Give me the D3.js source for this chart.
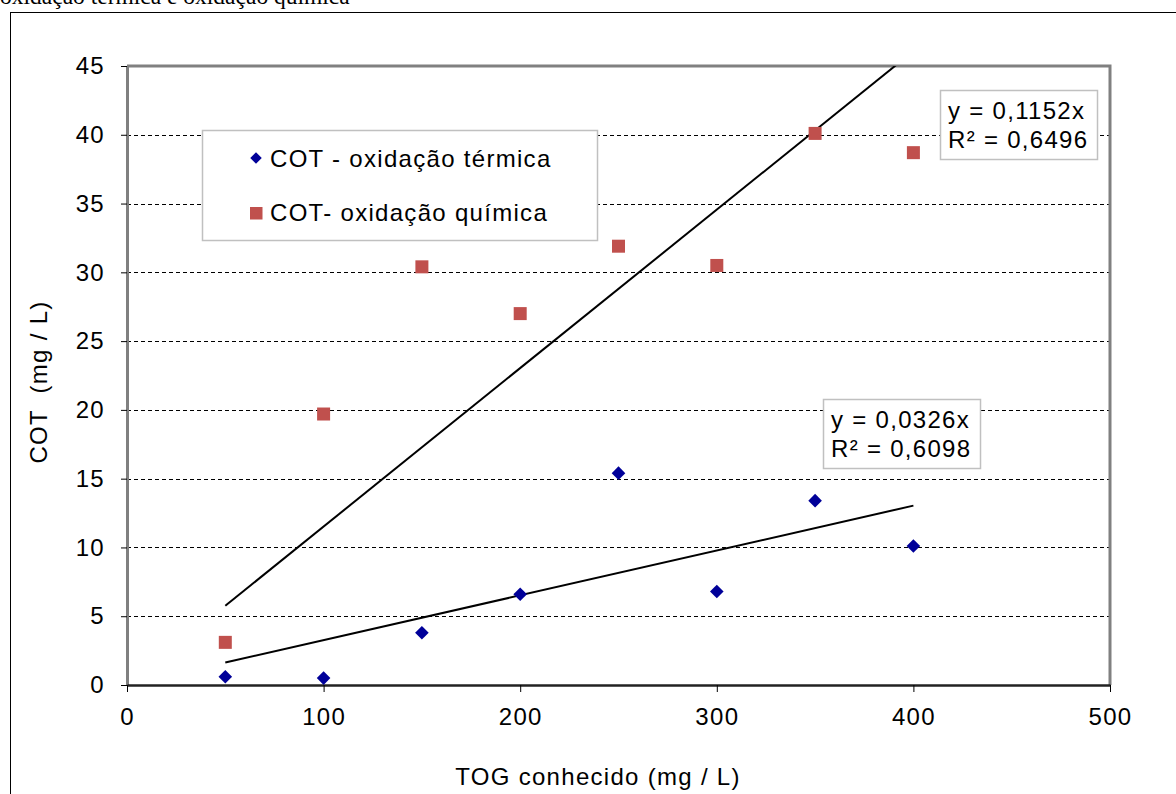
<!DOCTYPE html>
<html>
<head>
<meta charset="utf-8">
<script src="https://cdn.jsdelivr.net/npm/d3@7"></script>
<style>
  html, body { margin: 0; padding: 0; background: #fff; }
  svg { display: block; }
  text { font-family: "Liberation Sans", Arial, sans-serif; fill: #000; font-size: 24px; letter-spacing: 1.3px; }
</style>
</head>
<body>
<svg id="chart" width="1176" height="794"></svg>
<script>
// chart data
const xValues = [50, 100, 150, 200, 250, 300, 350, 400];
const termica = [0.6, 0.5, 3.8, 6.6, 15.4, 6.8, 13.4, 10.1];
const quimica = [3.1, 19.7, 30.4, 27.0, 31.9, 30.5, 40.1, 38.7];
const slopes = { termica: 0.0326, quimica: 0.1152 };
const r2 = { termica: "0,6098", quimica: "0,6496" };
const xTicks = [0, 100, 200, 300, 400, 500];
const yTicks = [0, 5, 10, 15, 20, 25, 30, 35, 40, 45];
const seriesNames = ["COT - oxidação térmica", "COT- oxidação química"];

const svg = d3.select("#chart");
const fmt = d => String(d).replace(".", ",");

// page caption (cut off at top) and outer frame
svg.append("text")
  .attr("x", 0).attr("y", 4)
  .style("font-family", "'Liberation Serif', 'Times New Roman', serif")
  .style("font-size", "23.5px")
  .style("letter-spacing", "0")
  .text("oxidação térmica e oxidação química");

svg.append("rect")
  .attr("x", 10.5).attr("y", 12.5)
  .attr("width", 1180).attr("height", 800)
  .attr("fill", "none").attr("stroke", "#000").attr("stroke-width", 1);

const plotL = 127, plotR = 1110, plotT = 66, plotB = 685;
const x = d3.scaleLinear().domain([0, 500]).range([plotL, plotR]);
const y = d3.scaleLinear().domain([0, 45]).range([plotB, plotT]);

// gridlines
svg.append("g").selectAll("line")
  .data(yTicks.filter(d => d > 0 && d < 45))
  .join("line")
  .attr("x1", plotL).attr("x2", plotR)
  .attr("y1", d => Math.round(y(d)) + 0.5).attr("y2", d => Math.round(y(d)) + 0.5)
  .attr("stroke", "#000").attr("stroke-width", 1)
  .attr("stroke-dasharray", "4,3");

// plot frame: gray top/right
svg.append("path")
  .attr("d", `M${plotL},${plotT}H${plotR}V${plotB}`)
  .attr("fill", "none").attr("stroke", "#808080").attr("stroke-width", 3);

// y axis
const yAxis = svg.append("g")
  .attr("transform", `translate(${plotL},0)`)
  .call(d3.axisLeft(y).tickValues(yTicks).tickSize(6).tickSizeOuter(0).tickPadding(16).tickFormat(fmt));
yAxis.select(".domain").attr("stroke", "#808080").attr("stroke-width", 3);
yAxis.selectAll(".tick line").attr("stroke", "#000");
yAxis.selectAll(".tick text").attr("font-size", null).attr("font-family", null);

// x axis
const xAxis = svg.append("g")
  .attr("transform", `translate(0,${plotB})`)
  .call(d3.axisBottom(x).tickValues(xTicks).tickSize(7).tickSizeOuter(0).tickPadding(16).tickFormat(fmt));
xAxis.select(".domain").attr("stroke", "#222").attr("stroke-width", 2.5);
xAxis.selectAll(".tick line").attr("stroke", "#000");
xAxis.selectAll(".tick text").attr("font-size", null).attr("font-family", null);

// axis titles
svg.append("text")
  .attr("x", 598).attr("y", 785)
  .attr("text-anchor", "middle")
  .text("TOG conhecido (mg / L)");
svg.append("text")
  .attr("transform", "translate(47,382) rotate(-90)")
  .attr("text-anchor", "middle")
  .attr("xml:space", "preserve")
  .text("COT  (mg / L)");

// trend lines, clipped to the plot area
svg.append("clipPath").attr("id", "plotClip")
  .append("rect").attr("x", plotL).attr("y", plotT)
  .attr("width", plotR - plotL).attr("height", plotB - plotT);

const line = d3.line().x(d => x(d[0])).y(d => y(d[1]));
const x0 = d3.min(xValues), x1 = d3.max(xValues);
["quimica", "termica"].forEach(k => {
  svg.append("path")
    .attr("clip-path", "url(#plotClip)")
    .attr("d", line([[x0, slopes[k] * x0], [x1, slopes[k] * x1]]))
    .attr("fill", "none").attr("stroke", "#000").attr("stroke-width", 2);
});

// markers
const diamond = d3.symbol().type(d3.symbolDiamond2).size(118);
svg.append("g").selectAll("path")
  .data(xValues.map((v, i) => [v, termica[i]]))
  .join("path")
  .attr("transform", d => `translate(${x(d[0])},${y(d[1])})`)
  .attr("d", diamond)
  .attr("fill", "#000099");

svg.append("g").selectAll("rect")
  .data(xValues.map((v, i) => [v, quimica[i]]))
  .join("rect")
  .attr("x", d => x(d[0]) - 6.5).attr("y", d => y(d[1]) - 6.5)
  .attr("width", 13).attr("height", 13)
  .attr("fill", "#C0504D");

// legend
const legend = svg.append("g");
legend.append("rect")
  .attr("x", 202.5).attr("y", 130.5).attr("width", 395).attr("height", 110)
  .attr("fill", "#fff").attr("stroke", "#c0c0c0").attr("stroke-width", 1.5);
legend.append("path")
  .attr("transform", "translate(256,158)")
  .attr("d", d3.symbol().type(d3.symbolDiamond2).size(84))
  .attr("fill", "#000099");
legend.append("rect")
  .attr("x", 250).attr("y", 207).attr("width", 12.5).attr("height", 12.5)
  .attr("fill", "#C0504D");
legend.selectAll("text")
  .data(seriesNames)
  .join("text")
  .attr("x", 270).attr("y", (d, i) => 167 + i * 54)
  .text(d => d);

// equation labels
function eqBox(bx, by, k) {
  const g = svg.append("g");
  g.append("rect")
    .attr("x", bx + 0.5).attr("y", by + 0.5).attr("width", 157).attr("height", 69)
    .attr("fill", "#fff").attr("stroke", "#c0c0c0").attr("stroke-width", 1.5);
  g.append("text").attr("x", bx + 8).attr("y", by + 29)
    .text(`y = ${fmt(slopes[k])}x`);
  g.append("text").attr("x", bx + 8).attr("y", by + 58)
    .text(`R² = ${r2[k]}`);
}
eqBox(940, 90, "quimica");
eqBox(823, 399, "termica");
</script>
</body>
</html>
